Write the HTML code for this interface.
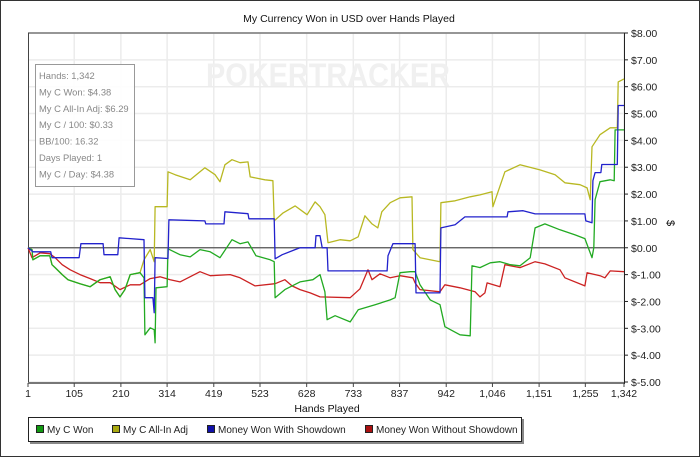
<!DOCTYPE html>
<html><head><meta charset="utf-8"><style>
body{margin:0;background:#fff;}
#wrap{position:relative;width:698px;height:455px;border:1px solid #333;background:#fff;overflow:hidden;font-family:"Liberation Sans",sans-serif;}
svg text{font-family:"Liberation Sans",sans-serif;}
</style></head><body>
<div id="wrap">
<svg id="chart" width="698" height="455"></svg>
</div>
<script>
const xTicks=[1,105,210,314,419,523,628,733,837,942,1046,1151,1255,1342];
const xTickLabels=["1","105","210","314","419","523","628","733","837","942","1,046","1,151","1,255","1,342"];
const yTicks=[8,7,6,5,4,3,2,1,0,-1,-2,-3,-4,-5];
const yTickLabels=["$8.00","$7.00","$6.00","$5.00","$4.00","$3.00","$2.00","$1.00","$0.00","$-1.00","$-2.00","$-3.00","$-4.00","$-5.00"];
const seriesNames=["My C Won","My C All-In Adj","Money Won With Showdown","Money Won Without Showdown"];
const seriesColors=["#22aa22","#b8b822","#2222cc","#cc2222"];
const greenHands=[1,10,12,28,50,55,62,78,91,118,141,163,186,197,208,219,231,253,262,264,276,285,287,289,314,316,343,366,388,411,433,460,478,496,514,546,555,557,579,613,642,658,669,674,692,726,744,782,816,827,838,861,872,883,906,928,939,973,996,1000,1018,1041,1063,1086,1108,1131,1142,1164,1198,1232,1254,1270,1274,1277,1288,1311,1320,1322,1342];
const greenVals=[0,-0.07,-0.45,-0.3,-0.3,-0.63,-0.74,-1.0,-1.19,-1.34,-1.45,-1.19,-1.08,-1.56,-1.83,-1.56,-1.0,-0.93,-1.12,-3.24,-2.98,-3.05,-3.54,-1.49,-1.45,-0.04,-0.26,-0.34,-0.07,-0.15,-0.37,0.3,0.15,0.22,-0.3,-0.45,-0.52,-1.86,-1.56,-1.27,-1.19,-1.0,-1.64,-2.68,-2.53,-2.76,-2.31,-2.12,-1.94,-1.86,-0.93,-0.89,-0.89,-1.38,-1.94,-2.12,-2.94,-3.24,-3.28,-0.67,-0.74,-0.56,-0.52,-0.63,-0.67,-0.37,0.74,0.89,0.67,0.48,0.34,-0.37,0,1.79,2.46,2.53,2.5,4.39,4.39];
const yellowHands=[1,10,12,28,50,55,62,78,91,118,141,163,186,197,208,219,231,253,262,276,285,287,314,316,332,366,388,399,422,433,444,460,478,496,501,534,552,555,575,602,629,647,658,669,676,703,726,744,759,775,788,797,816,838,865,867,883,928,930,962,996,1018,1045,1047,1074,1108,1153,1187,1209,1243,1259,1266,1270,1288,1311,1327,1329,1342];
const yellowVals=[0,-0.07,-0.45,-0.3,-0.3,-0.63,-0.74,-1.0,-1.19,-1.34,-1.45,-1.19,-1.08,-1.56,-1.83,-1.56,-1.0,-0.93,-0.45,-0.07,-0.52,1.53,1.53,2.83,2.72,2.53,2.83,2.98,2.72,2.46,3.09,3.28,3.17,3.2,2.64,2.53,2.5,1.0,1.3,1.56,1.23,1.71,1.53,1.23,0.19,0.3,0.26,0.41,1.19,0.89,0.74,1.34,1.68,1.86,1.9,-0.07,-0.37,-0.52,1.68,1.75,1.9,1.97,2.09,1.53,2.83,3.09,2.9,2.72,2.42,2.35,2.23,1.79,3.76,4.21,4.47,4.47,6.18,6.29];
const blueHands=[1,12,52,55,116,120,170,172,203,206,262,264,282,285,287,316,318,399,401,442,444,496,498,555,557,573,602,613,647,649,658,663,674,676,809,811,822,872,874,928,930,962,984,1079,1081,1115,1142,1254,1256,1270,1272,1277,1290,1292,1327,1329,1342];
const blueVals=[0,-0.15,-0.15,-0.37,-0.37,0.15,0.15,-0.26,-0.26,0.37,0.3,-1.86,-1.86,-2.42,-0.37,-0.4,1.04,1.0,0.89,0.89,1.34,1.27,1.08,1.08,-0.41,-0.26,-0.07,0,0,0.45,0.45,0,0,-0.86,-0.86,-0.3,0.15,0.15,-1.68,-1.68,0.74,0.86,1.15,1.15,1.34,1.38,1.26,1.26,1.0,0.93,2.5,2.8,2.8,3.1,3.1,5.3,5.3];
const redHands=[1,10,28,50,62,78,96,118,141,163,186,208,231,253,276,298,321,343,388,411,456,478,512,557,579,595,613,636,658,726,748,766,775,793,816,838,867,872,883,928,939,973,1007,1018,1029,1034,1063,1074,1108,1142,1164,1198,1209,1254,1259,1288,1299,1311,1342];
const redVals=[0,-0.37,-0.19,-0.22,-0.37,-0.63,-0.82,-1.0,-1.15,-1.3,-1.3,-1.56,-1.38,-1.38,-1.15,-1.08,-1.19,-1.27,-0.89,-1.04,-1.0,-1.12,-1.42,-1.34,-1.19,-1.42,-1.56,-1.68,-1.83,-1.86,-1.53,-0.82,-1.19,-0.97,-1.12,-1.04,-1.12,-1.31,-1.56,-1.64,-1.38,-1.49,-1.64,-1.83,-1.68,-1.31,-1.45,-0.63,-0.74,-0.52,-0.6,-0.82,-1.12,-1.42,-0.93,-1.04,-1.12,-0.86,-0.89];

const NS="http://www.w3.org/2000/svg";
const svg=document.getElementById('chart');
const L=27,R=623,T=32,B=381,HMIN=1,HMAX=1342,VMIN=-5,VMAX=8;
function xs(h){return L+(h-HMIN)/(HMAX-HMIN)*(R-L);}
function ys(v){return T+(VMAX-v)/(VMAX-VMIN)*(B-T);}
function mk(tag,attrs,parent){const e=document.createElementNS(NS,tag);for(const k in attrs)e.setAttribute(k,attrs[k]);(parent||svg).appendChild(e);return e;}

let t=mk('text',{x:348,y:21,'font-size':10.5,'text-anchor':'middle',fill:'#111'});t.textContent='My Currency Won in USD over Hands Played';



xTicks.forEach(h=>{if(h===1)return;const g=mk('line',{x1:xs(h),x2:xs(h),y1:T,y2:B,stroke:'#ececec','stroke-width':1.5});

});
yTicks.forEach(v=>{const g=mk('line',{x1:L,x2:R,y1:ys(v),y2:ys(v),stroke:'#ececec','stroke-width':1.5});

});

const wm=mk('text',{x:327,y:85,'font-size':32,'text-anchor':'middle',fill:'#f0f0f0','font-weight':'bold',textLength:244,lengthAdjust:'spacingAndGlyphs'});wm.textContent='POKERTRACKER';



mk('line',{x1:L,x2:R,y1:T,y2:T,stroke:'#777','stroke-width':1.5});
mk('line',{x1:L+0.5,x2:L+0.5,y1:T,y2:B,stroke:'#444','stroke-width':1});
const xa=mk('line',{x1:L,x2:R,y1:B+1,y2:B+1,stroke:'#777','stroke-width':2});


const ya=mk('line',{x1:R+0.5,x2:R+0.5,y1:T,y2:B+2,stroke:'#222','stroke-width':1});



const z=mk('line',{x1:L,x2:R,y1:ys(0),y2:ys(0),stroke:'#555','stroke-width':1.2});



xTicks.forEach((h,i)=>{mk('line',{x1:xs(h),x2:xs(h),y1:B+1,y2:B+5,stroke:'#444'});
const tx=mk('text',{x:xs(h),y:396,'font-size':10.5,'text-anchor':'middle',fill:'#222'});tx.textContent=xTickLabels[i];

});
yTicks.forEach((v,i)=>{mk('line',{x1:R,x2:R+4,y1:ys(v),y2:ys(v),stroke:'#222'});
const ty=mk('text',{x:630,y:ys(v)+4,'font-size':10.5,fill:'#222'});ty.textContent=yTickLabels[i];

});

const xt=mk('text',{x:326,y:411,'font-size':10.5,'text-anchor':'middle',fill:'#111'});xt.textContent='Hands Played';


const yt=mk('text',{x:0,y:0,'font-size':11,'text-anchor':'middle',fill:'#111',transform:'translate(666,222) rotate(90)'});yt.textContent='$';



const all=[[greenHands,greenVals],[yellowHands,yellowVals],[blueHands,blueVals],[redHands,redVals]];
const drawOrder=[3,1,0,2];
drawOrder.forEach(i=>{const [hs,vs]=all[i];const pts=hs.map((h,k)=>xs(h).toFixed(1)+','+ys(vs[k]).toFixed(1)).join(' ');
const p=mk('polyline',{points:pts,fill:'none',stroke:seriesColors[i],'stroke-width':1.3,'stroke-linejoin':'round'});

});

const sb=mk('g',{});


mk('rect',{x:34.5,y:63.5,width:99,height:122,fill:'#fff','fill-opacity':0.9,stroke:'#999'},sb);
const stats=["Hands: 1,342","My C Won: $4.38","My C All-In Adj: $6.29","My C / 100: $0.33","BB/100: 16.32","Days Played: 1","My C / Day: $4.38"];
stats.forEach((s,i)=>{const e=mk('text',{x:38,y:78+i*16.4,'font-size':9.4,fill:'#888'},sb);e.textContent=s;

});

const lg=mk('g',{});


mk('rect',{x:29,y:418,width:494,height:25,fill:'#888'},lg);
mk('rect',{x:27.5,y:416.5,width:493,height:24,fill:'#fff',stroke:'#222'},lg);
const lx=[35,111,206,364];
seriesNames.forEach((n,i)=>{const g=mk('g',{},lg);


mk('rect',{x:lx[i]+0.5,y:424.5,width:7,height:7,fill:['#119911','#aaaa11','#1111aa','#aa1111'][i],stroke:'#222'},g);
const e=mk('text',{x:lx[i]+11,y:432,'font-size':10,fill:'#222'},g);e.textContent=n;});
</script>
</body></html>
